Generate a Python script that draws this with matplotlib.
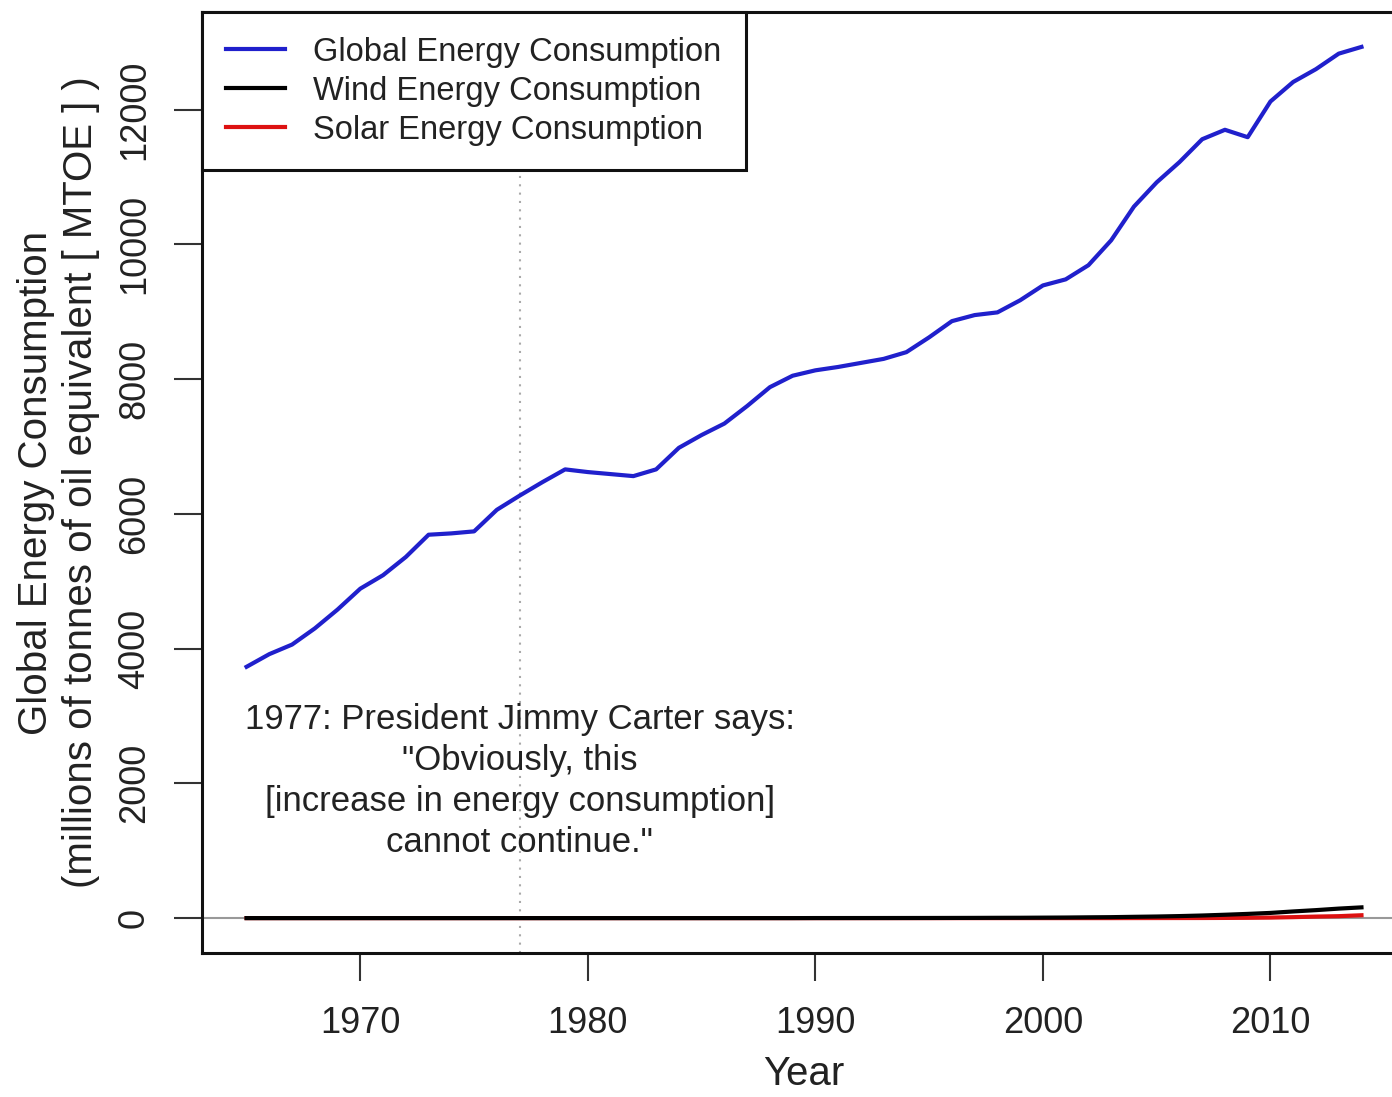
import matplotlib
matplotlib.use("Agg")
import matplotlib.pyplot as plt
import numpy as np

years = list(range(1965, 2015))
global_energy = [3730, 3918, 4060, 4300, 4580, 4890, 5090, 5360, 5690, 5710,
                 5740, 6060, 6270, 6470, 6660, 6620, 6590, 6560, 6660, 6980,
                 7170, 7340, 7600, 7880, 8050, 8130, 8180, 8240, 8300, 8400,
                 8620, 8860, 8950, 8990, 9170, 9390, 9480, 9690, 10060, 10560,
                 10920, 11220, 11560, 11700, 11590, 12120, 12410, 12600, 12830, 12930]
wind_energy = [0]*25 + [0.9, 1.0, 1.2, 1.4, 1.7, 2.1, 2.7, 3.4, 4.6, 5.3,
                        7.1, 8.8, 11.8, 14.2, 19.2, 23.7, 30.1, 38.7, 50.0, 62.6,
                        77.1, 99.0, 118.5, 141.1, 159.5]
solar_energy = [0]*39 + [0.6, 0.9, 1.3, 1.7, 2.9, 4.7, 7.7, 14.4, 22.8, 28.8, 42.5]

series_labels = ["Global Energy Consumption", "Wind Energy Consumption", "Solar Energy Consumption"]
annotation_year = 1977
annotation_text = ('1977: President Jimmy Carter says:\n"Obviously, this\n'
                   '[increase in energy consumption]\ncannot continue."')
annotation_y = 880

plt.rcParams['font.family'] = ['Liberation Sans', 'DejaVu Sans']
base = 25

fig = plt.figure(figsize=(13.92, 10.97), dpi=100)
ax = fig.add_axes([0.1451, 0.1313, 0.8650, 0.8577])

ax.axhline(0, color='#999999', lw=1.5, zorder=1)
ax.axvline(annotation_year, color='#aaaaaa', lw=1.5, ls=(0, (1, 3)), zorder=1)

l1, = ax.plot(years, global_energy, color='#2020cc', lw=3, solid_joinstyle='round', zorder=3)
l3, = ax.plot(years, solar_energy, color='#dd1111', lw=3, solid_joinstyle='round', zorder=3)
l2, = ax.plot(years, wind_energy, color='black', lw=3, solid_joinstyle='round', zorder=3.5)

ax.margins(x=0.04, y=0.04)

ax.set_xticks([1970, 1980, 1990, 2000, 2010])
ax.set_yticks([0, 2000, 4000, 6000, 8000, 10000, 12000])
ax.tick_params(axis='both', labelsize=base + 1, length=20, width=1.5, color='#333333',
               labelcolor='#222222')
ax.tick_params(axis='x', pad=18)
ax.tick_params(axis='y', pad=16)
for lab in ax.get_yticklabels():
    lab.set_rotation(90)
    lab.set_va('center')

for s in ax.spines.values():
    s.set_linewidth(2.2)
    s.set_color('#111111')

ax.set_xlabel("Year", fontsize=29, color='#222222', labelpad=10)
ax.set_ylabel("Global Energy Consumption\n(millions of tonnes of oil equivalent [ MTOE ] )",
              fontsize=29, color='#222222', labelpad=12, linespacing=1.25)

ax.text(annotation_year, annotation_y, annotation_text, ha='center', va='bottom',
        fontsize=base, color='#222222', linespacing=1.3, zorder=4)

leg = ax.legend([l1, l2, l3], series_labels, loc='upper left', fontsize=23.5,
                frameon=True, fancybox=False, borderaxespad=0, handlelength=1.8,
                handletextpad=0.85, labelspacing=0.25, borderpad=0.75)
leg.get_frame().set_edgecolor('#111111')
leg.get_frame().set_linewidth(2.2)
leg.get_frame().set_facecolor('white')
leg.get_frame().set_alpha(1)
for t in leg.get_texts():
    t.set_color('#222222')
leg.set_zorder(5)

fig.savefig("out.png", dpi=100)
